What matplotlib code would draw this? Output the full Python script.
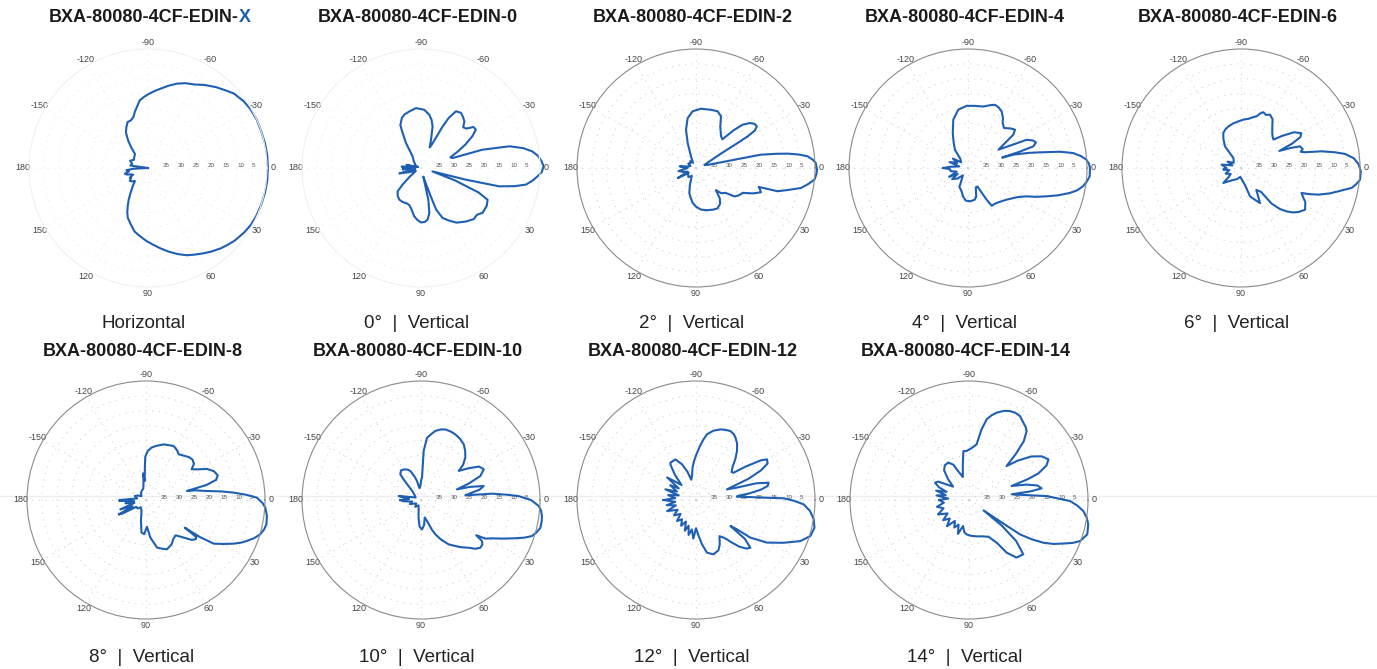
import numpy as np
import matplotlib
matplotlib.use("Agg")
import matplotlib.pyplot as plt
from matplotlib.lines import Line2D

plt.rcParams['font.family'] = ['Liberation Sans', 'DejaVu Sans']

titles = ["BXA-80080-4CF-EDIN-", "BXA-80080-4CF-EDIN-0", "BXA-80080-4CF-EDIN-2",
          "BXA-80080-4CF-EDIN-4", "BXA-80080-4CF-EDIN-6", "BXA-80080-4CF-EDIN-8",
          "BXA-80080-4CF-EDIN-10", "BXA-80080-4CF-EDIN-12", "BXA-80080-4CF-EDIN-14"]
subtitles = ["Horizontal", "0°  |  Vertical", "2°  |  Vertical", "4°  |  Vertical",
             "6°  |  Vertical", "8°  |  Vertical", "10°  |  Vertical",
             "12°  |  Vertical", "14°  |  Vertical"]

theta_ticks = [0, 30, 60, 90, 120, 150, 180, 210, 240, 270, 300, 330]
theta_labels = ["0", "30", "60", "90", "120", "150", "180", "-150", "-120", "-90", "-60", "-30"]
r_ticks = [-35, -30, -25, -20, -15, -10, -5]
r_labels = ["35", "30", "25", "20", "15", "10", "5"]

# angle (deg, clockwise from boresight) and relative gain (dB)
h_ang = [-180, -172, -165, -158, -150, -140, -133, -129, -126, -122, -118, -114, -110, -106,
         -103, -100, -97, -93, -89, -85, -81, -76, -71, -66, -61, -56, -50, -45, -41, -35,
         -30, -24, -18, -12, -6, 0, 6, 12, 18, 24, 29, 34, 40, 44, 48, 53, 57, 62, 66, 71,
         76, 81, 86, 91, 95, 99, 102, 107, 112, 115, 118, 121, 124, 127, 130, 135, 140,
         145, 150, 152, 156, 159, 163, 166, 170, 174, 177, 180]
h_gain = [-40, -34, -34.5, -33.5, -34.5, -34, -33.6, -31, -28.7, -26, -24.5, -23.1, -23,
          -22.2, -20.5, -19, -17.1, -16, -15, -14, -13, -11.5, -10, -8.8, -7.9, -6.3, -4.5,
          -3.1, -1.8, -0.8, -0.3, 0, 0, 0.2, 0.3, 0.3, 0.3, 0.2, 0, -0.2, -0.5, -1.1, -2,
          -2.8, -3.6, -4.8, -5.8, -7, -7.9, -9.4, -11, -12.6, -14.1, -15.4, -16.5, -17.5,
          -18.2, -20.2, -21.9, -23.5, -25.5, -27.3, -29.2, -30.8, -32, -33.8, -33, -32.5,
          -33.5, -33.1, -34.5, -34, -32.5, -32, -33.5, -32.7, -35, -40]

v0_ang = [-180, -176, -172, -168, -163, -155, -145, -135, -128, -125.9, -121, -117.5,
          -115.7, -111, -107.4, -101.7, -94.8, -86.8, -81.1, -77.5, -74.4, -70.5, -67, -65,
          -63.5, -62.5, -61, -58.3, -54, -50.5, -47, -44, -41, -38, -35, -32, -28, -24, -20,
          -17.5, -16.6, -13.8, -11, -8.5, -6, -3.2, -0.8, 2, 4.2, 6.5, 9, 11, 13.2, 14.6,
          16.7, 20, 23, 25.5, 30, 36, 40, 44, 50, 57, 62, 66.6, 70, 71, 73, 75, 77, 79.5,
          82.7, 86, 90, 94, 98, 104, 108, 113, 118, 124.4, 130, 135, 138, 142, 150, 160, 166,
          170, 176, 180]
v0_gain = [-38, -33.5, -38, -35, -39, -38, -37.5, -36.5, -35.5, -35.2, -30.2, -26.5, -24,
           -22, -21.2, -20.6, -19.8, -20.4, -21.9, -23.5, -25.5, -29.9, -32.5, -31, -28,
           -24.2, -20.7, -17.6, -17.1, -17.8, -18.6, -20.3, -19.8, -17.6, -17.5, -19.5, -23,
           -26.5, -29.5, -28.9, -18.5, -9.4, -5, -2.2, -0.5, 0.6, 1.2, 0.6, -0.8, -2.3,
           -4.3, -8, -13, -24.4, -36, -28, -19, -15.2, -14.5, -14.4, -15.5, -15.3, -16.5,
           -18.1, -20, -21.7, -25.1, -29.9, -35, -37, -29, -24.6, -22.5, -21.8, -21.7, -22.5,
           -23.6, -26.1, -27, -27.2, -27, -27.1, -27.8, -28.9, -31.7, -35, -38, -36, -32.5,
           -38, -33.8, -38]

v2_ang = [-180, -174, -168, -160, -150, -140, -130, -120, -113.2, -108.4, -104.6, -99.5,
          -93.4, -85.2, -75.6, -69.1, -64.2, -59.7, -55, -51.7, -47.5, -45, -42.9, -40,
          -37.2, -34.5, -32.5, -31.5, -31, -30, -26, -20, -15, -12.5, -12, -11.6, -10, -8.9,
          -7.5, -6, -4, -2.4, 0.8, 3, 5.6, 8, 10.8, 13.5, 15.9, 16.8, 18, 20.5, 24, 28, 33,
          36.6, 40, 45, 48, 52, 56, 62, 68, 75, 83, 90, 95.4, 100, 105, 110, 118, 130, 140,
          146, 151, 156, 163, 170, 176, 180]
v2_gain = [-37, -34.5, -37.5, -38, -37, -37.5, -37, -38, -35.7, -31.1, -26.7, -23, -20.9,
           -20, -19.8, -19.6, -20.7, -23.8, -25.5, -26.4, -26.9, -22, -18.6, -16.5, -15.4,
           -15.2, -16.5, -19.5, -23.7, -30.2, -35, -37, -36, -30, -25, -17.7, -12.5, -8.8,
           -5.2, -2.3, -0.6, 0.3, 0.7, 0.5, 0, -1.8, -4.1, -8.3, -11.5, -18, -17.5, -16.7,
           -19, -22.2, -23, -24, -27, -28, -30, -27, -25.5, -24.6, -24.9, -25.3, -25.9, -27,
           -28.2, -29.8, -31.3, -34, -37, -36, -36.5, -37, -33, -37, -35.5, -34, -36.5, -37]

v4_ang = [-180, -176, -170, -162, -155, -148, -140, -130, -125.8, -119, -113.6, -106.9,
          -99.4, -91.2, -84, -76, -70, -66.9, -63, -59.2, -55, -52.4, -48, -43, -39.2,
          -36.3, -34, -31, -28, -25.7, -23, -20.6, -18.3, -17.5, -17, -16.4, -14, -12.3,
          -10, -8.1, -6, -4, -2, 0, 3.9, 6.5, 9.1, 11.5, 13.8, 17, 19.9, 23, 25.9, 30, 33.5,
          39.3, 46, 50.6, 54, 57.8, 59.5, 61, 63, 68, 74, 78, 86, 94, 100, 106, 114.4, 120,
          125, 135, 145, 150, 155, 162, 170, 176, 180]
v4_gain = [-31.6, -34, -37, -33.5, -36, -34, -37, -36, -32.5, -30, -27.2, -23, -20.1, -19.1,
           -19, -18.7, -17.5, -16.9, -17.2, -17.9, -19.5, -20.9, -21.9, -20.5, -19.6, -21.1,
           -25, -28, -24, -18.1, -16.3, -15.6, -16.9, -22, -28, -24.1, -19, -15.3, -8.5,
           -4.3, -1.8, -0.1, 0.7, 1, 1, 0.2, -0.9, -2.5, -4.8, -8.5, -12, -15.2, -18.2,
           -20.5, -21.7, -23.2, -24.3, -24.8, -25, -25, -27.6, -30.6, -33, -33, -30, -29.1,
           -28.8, -29, -30.3, -32, -33, -36, -37, -35, -33.5, -36, -33, -36, -34, -34, -31.6]

v6_ang = [-180, -170, -163, -155, -145, -135, -127.5, -126.4, -121, -116.8, -112, -106.9,
          -100, -93.3, -87, -81.5, -77, -73.1, -70.5, -68.1, -65, -61.5, -57, -53, -49, -45,
          -41.2, -38, -34, -30, -27.5, -25.5, -24, -22, -20.2, -17, -15.2, -13.8, -11.7,
          -9.5, -7.7, -5, -2, 1.6, 5.6, 8, 10.2, 13.5, 16, 19, 21, 22.4, 25, 28, 33.1, 37.5,
          40.5, 43.5, 46.5, 49.3, 50, 55, 61.5, 66.8, 72.4, 76.5, 85, 95, 110, 125, 135,
          139.7, 144, 150, 160, 170, 175, 180]
v6_gain = [-35, -33.4, -37, -35, -37, -36.5, -35.8, -30.9, -28.5, -26.8, -26, -25.4, -24.8,
           -24.3, -23.7, -23.3, -22.5, -21.8, -20.5, -19.8, -20.3, -19.6, -20.5, -22.5, -24,
           -25, -25.5, -22.5, -18.5, -16.6, -17.5, -21, -25.9, -22, -18.9, -18.3, -19.2,
           -17.8, -12.3, -8, -4.7, -2, -0.5, 0.3, 0.2, -0.9, -2.2, -6.4, -9, -12.5, -15.5,
           -18, -17, -15.5, -14.3, -15.7, -17, -18.8, -21, -24.2, -29.5, -31, -26.6, -28.5,
           -30, -34, -36, -37, -36, -35, -33.5, -32.2, -35, -36, -34.5, -36, -34, -35]

v8_ang = [-180, -176, -170, -160, -150, -140, -125, -112, -103, -98, -96, -94, -92, -91,
          -88, -84, -80, -76, -72.4, -67, -62.9, -58, -54.4, -50, -45, -41, -37, -34, -31,
          -27, -23, -19, -16, -14, -12.4, -11, -8.4, -6.5, -4.8, -3, -1.2, 1.5, 3.7, 7.5,
          11.4, 14, 16.7, 19.5, 22.1, 24.3, 26.5, 29.5, 32.8, 34.5, 35.5, 36.4, 38, 41, 46,
          50, 55, 60, 66.9, 72, 77, 83.4, 88, 93, 98, 104, 112, 125, 135, 145, 150, 152,
          155, 160, 166, 171, 175, 178, 180]
v8_gain = [-31.2, -35, -37, -36, -37, -38, -37, -36.5, -36, -34, -31, -33.6, -29, -25.5,
           -23.5, -22.3, -21.6, -21, -20.4, -20, -19.6, -20.3, -21.1, -20.5, -19.6, -19.3,
           -19.8, -21.5, -20, -17, -15.2, -14.5, -15.5, -19, -25.9, -23, -19.3, -14.5, -10.4,
           -6.3, -2.7, -0.8, 0.2, 1, 1.3, 0.9, 0.1, -1.5, -3.4, -5.1, -7.1, -10, -12.9, -18,
           -24, -19, -18.7, -19.5, -22.7, -24.5, -24, -22.8, -22, -22.8, -23.6, -27.3, -31,
           -28.5, -29, -33, -36, -37, -36, -36, -31, -29.6, -35, -30.8, -36, -33, -36, -31,
           -31.2]

v10_ang = [-180, -175, -169.8, -165, -155, -145, -135, -133, -130, -128.8, -124, -119.5,
           -114, -110.2, -105, -101.9, -97, -92, -89, -87.4, -87, -86.9, -84.5, -81, -78.3,
           -74.5, -71, -66.5, -62.4, -57.5, -52.5, -48, -43.7, -40, -37.6, -34, -30, -26.1,
           -22, -19, -16.5, -15, -12.6, -10, -8, -6, -5.1, -3.5, -2.3, 0, 2.9, 5, 7.5, 10,
           13.1, 15.5, 18, 20, 22.1, 25, 28.4, 31, 32.5, 33.9, 36, 38.8, 42, 45, 50, 54, 58,
           63, 67.3, 70, 74, 78, 83, 88, 93, 98, 105, 115, 130, 145, 160, 170, 176, 180]
v10_gain = [-33, -36, -32.4, -36, -38, -37.5, -36, -35, -30.5, -28.9, -28, -28.2, -28.8,
            -29.6, -32, -33.5, -36, -35, -33, -32.5, -27, -23.5, -19, -17.5, -16.3, -15.4,
            -14.9, -14.9, -15.1, -15.6, -16.4, -17.8, -19.4, -21.5, -24, -21, -17.5, -16.5,
            -18.5, -23, -27.4, -23, -18.4, -20, -23, -25, -16, -11, -7.2, -3, -0.4, 0.5, 1,
            1.2, 1.2, 0.4, -0.8, -3, -5.8, -9.3, -12.9, -14.8, -18, -15.3, -14.5, -14.4,
            -15.5, -17.3, -19.3, -21, -22.4, -25, -27.5, -29.5, -32.7, -34, -31.5, -30.1,
            -31, -34, -37, -38, -37, -38, -36, -37, -34, -33]

v12_ang = [-180, -175, -170, -165, -160.8, -156, -150, -146, -142, -138, -134, -130, -126,
           -124.5, -117, -111.4, -107, -103, -99, -96, -93, -90, -86, -83, -80.5, -76, -71,
           -67, -63.5, -60, -57.7, -54, -50.1, -46, -42, -38, -36, -34, -31.5, -29.8, -27,
           -24.5, -22, -19, -17, -15.5, -13.4, -11, -9, -7, -5.5, -4.6, -3, -2, -1.1, 0.5,
           2.3, 5.5, 9.3, 13.2, 17.5, 21.5, 26, 31, 34.7, 35.6, 37, 38.5, 41.3, 44, 47, 49.8,
           53, 57, 62, 66, 72, 78.2, 82.3, 86, 90, 94, 98, 102, 106, 110, 115, 120, 126, 132,
           138, 145, 152, 159, 165, 170, 175, 180]
v12_gain = [-29.1, -33, -30.5, -34, -29.1, -33, -30, -33, -27.7, -31, -33, -29, -25.5,
            -24.8, -24.7, -27.1, -30, -33, -31.5, -29, -27, -25, -22, -19.5, -17.6, -16,
            -14.9, -14.4, -14.1, -14.5, -15.2, -16.5, -18.5, -21, -23.5, -24.8, -24.4, -20,
            -14.5, -12.5, -13, -16, -21, -29, -26, -19, -14.9, -15.5, -18, -22, -26, -26.2,
            -21.5, -17.2, -10.5, -7, -3.8, -1.5, 0.1, 0.9, 0.3, -2.3, -7.2, -12.2, -17.8,
            -23.1, -25.5, -19, -15.7, -16.5, -18.5, -21.2, -24, -25.5, -23, -21.5, -20.8,
            -21.9, -25, -28, -30.5, -27, -30, -28, -31, -29, -32, -30, -32, -30.5, -33, -31,
            -33, -29.6, -33, -30, -33, -29.1]

v14_ang = [-180, -176, -172, -168, -164, -160, -157, -153, -149, -145, -140, -135, -130,
           -125, -119, -114, -110, -105, -100, -96.6, -92.7, -87, -82.2, -80, -77.6, -75,
           -72.4, -68.5, -65.3, -62, -58.7, -55, -52, -50.1, -47, -44.5, -42.1, -39, -35,
           -31, -27.1, -24, -21, -19.5, -18.2, -15, -12, -9.1, -8, -7.6, -5.5, -2.9, 0.6, 3,
           5.5, 8.5, 11.5, 16.2, 20.3, 22.5, 24.8, 27.5, 29.9, 32, 34, 34.5, 35.5, 38, 41,
           45, 50.4, 54.4, 57, 62, 70, 78, 83.1, 88, 93.9, 98, 103, 108, 113, 118, 124, 130,
           136, 142, 148, 155, 162, 168, 174, 180]
v14_gain = [-30, -33, -29, -32, -28.5, -32, -29, -27.2, -28, -31, -33, -30, -27, -25.8,
            -25.6, -27, -30, -32, -28, -23.5, -23.5, -22.5, -21.1, -16, -12.2, -10.5, -9.2,
            -7.8, -7.1, -6.8, -7, -8.2, -9, -9.8, -13, -18, -23, -19, -14.5, -11.5, -10,
            -11.5, -15, -19, -24.9, -20, -16.5, -15.3, -19, -25.5, -22, -13.9, -6, -3.5,
            -1.4, 0, 0.9, 1.4, -0.2, -2.3, -5.1, -8, -11.2, -15, -19.3, -27, -34, -26, -19,
            -14.2, -14.9, -18.2, -22.9, -26, -27, -27.5, -27.8, -28, -28.4, -29, -31, -28,
            -31, -29.5, -31.5, -28.5, -31, -29, -31.5, -28.5, -31, -29, -31.5, -30]

patterns = [(h_ang, h_gain), (v0_ang, v0_gain), (v2_ang, v2_gain), (v4_ang, v4_gain),
            (v6_ang, v6_gain), (v8_ang, v8_gain), (v10_ang, v10_gain),
            (v12_ang, v12_gain), (v14_ang, v14_gain)]

W, H = 1377, 669
R = 119
centers = [(148, 168), (421, 168), (696, 168), (968, 168), (1241, 168),
           (146, 500), (421, 500), (696, 500), (969, 500)]

fig = plt.figure(figsize=(W / 100, H / 100), dpi=100)
fig.add_artist(Line2D([0, 1], [1 - 496 / H] * 2, color='#ededed', lw=1.0, zorder=0))

line_color = '#1f5fb2'

for i, (ang, gain) in enumerate(patterns):
    cx, cy = centers[i]
    ax = fig.add_axes([(cx - R) / W, 1 - (cy + R) / H, 2 * R / W, 2 * R / H],
                      projection='polar')
    ax.set_theta_zero_location('E')
    ax.set_theta_direction(-1)
    ax.plot(np.radians(ang), gain, color=line_color, lw=1.5, clip_on=False)
    ax.set_rlim(-40, 0)
    ax.set_rticks(r_ticks)
    ax.set_yticklabels(r_labels, fontsize=4.5, color='#555555')
    ax.set_rlabel_position(0)
    ax.set_thetagrids(theta_ticks, labels=theta_labels)
    ax.tick_params(axis='x', labelsize=6.5, labelcolor='#444444', pad=-6)
    faint = i < 2
    ax.grid(color='#ececec' if faint else '#d4d4d4', linestyle=(0, (1, 5)), linewidth=0.8)
    ax.spines['polar'].set_color('#f0f0f0' if faint else '#8a8a8a')
    ax.spines['polar'].set_linewidth(0.8)
    ax.set_facecolor('none')

    row_y = 18 if i < 5 else 352
    sub_y = 323 if i < 5 else 658
    if i == 0:
        t = fig.text((cx - 4 + 95) / W, 1 - row_y / H, titles[i], ha='right', va='center',
                     fontsize=13, fontweight='bold', color='#1a1a1a')
        ax.annotate("X", xy=(1, 0), xycoords=t, ha='left', va='bottom', fontsize=13,
                    fontweight='bold', color='#1f5fb2', annotation_clip=False)
    else:
        fig.text((cx - 3) / W, 1 - row_y / H, titles[i], ha='center', va='center',
                 fontsize=13, fontweight='bold', color='#1a1a1a')
    fig.text((cx - 4) / W, 1 - sub_y / H, subtitles[i], ha='center', va='center',
             fontsize=13.5, color='#222222')

fig.savefig("out.png", dpi=100, facecolor='white')
